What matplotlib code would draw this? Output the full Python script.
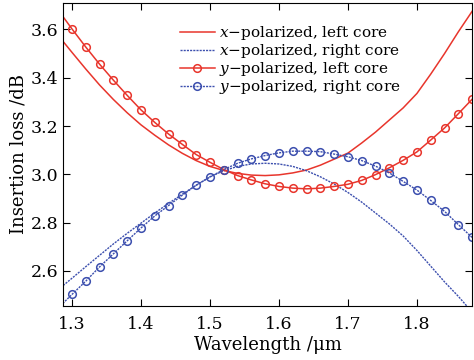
import matplotlib
matplotlib.use("Agg")
import matplotlib.pyplot as plt
import numpy as np

# wavelength grid (um); markers start at 1.30
wavelength = np.round(np.arange(1.28, 1.8801, 0.02), 2)

x_left = [3.575, 3.505, 3.436, 3.370, 3.310, 3.255, 3.205, 3.162, 3.122, 3.087,
          3.057, 3.033, 3.016, 3.004, 2.997, 2.995, 2.998, 3.006, 3.018, 3.038,
          3.063, 3.088, 3.130, 3.175, 3.225, 3.275, 3.335, 3.415, 3.500, 3.590, 3.675]
x_right = [2.523, 2.570, 2.618, 2.665, 2.712, 2.756, 2.798, 2.840, 2.880, 2.918,
           2.955, 2.990, 3.015, 3.033, 3.043, 3.046, 3.043, 3.033, 3.015, 2.990,
           2.960, 2.925, 2.885, 2.840, 2.795, 2.745, 2.685, 2.620, 2.555, 2.495, 2.430]
y_left = [3.680, 3.602, 3.527, 3.456, 3.390, 3.327, 3.267, 3.215, 3.167, 3.124,
          3.082, 3.050, 3.020, 2.995, 2.977, 2.961, 2.950, 2.943, 2.940, 2.943,
          2.950, 2.959, 2.975, 2.999, 3.027, 3.058, 3.093, 3.142, 3.192, 3.251, 3.311]
y_right = [2.447, 2.503, 2.558, 2.617, 2.671, 2.725, 2.778, 2.828, 2.871, 2.914,
           2.955, 2.989, 3.020, 3.046, 3.064, 3.078, 3.089, 3.096, 3.096, 3.094,
           3.084, 3.073, 3.057, 3.034, 3.006, 2.971, 2.935, 2.892, 2.847, 2.792, 2.739]

red = "#e8352c"
blue = "#3c4fae"

plt.rcParams["font.family"] = ["DejaVu Serif"]
plt.rcParams["mathtext.fontset"] = "dejavuserif"

fig = plt.figure(figsize=(4.74, 3.6), dpi=100)
ax = fig.add_axes([0.133, 0.15, 0.863, 0.842])

ax.plot(wavelength, x_left, "-", color=red, lw=1.1, label="$x$\u2212polarized, left core")
ax.plot(wavelength, x_right, color=blue, lw=1.0, ls=(0, (1.5, 0.8)),
        label="$x$\u2212polarized, right core")
ax.plot(wavelength, y_left, "-o", color=red, lw=1.1, ms=5.5, mfc="none", mew=1.1,
        markevery=slice(1, None), label="$y$\u2212polarized, left core")
ax.plot(wavelength, y_right, color=blue, lw=1.0, ls=(0, (1.5, 0.8)), marker="o", ms=5.5,
        mfc="none", mew=1.1, markevery=slice(1, None),
        label="$y$\u2212polarized, right core")

ax.set_xlim(1.287, 1.88)
ax.set_ylim(2.455, 3.71)
ax.set_xticks([1.3, 1.4, 1.5, 1.6, 1.7, 1.8])
ax.set_yticks([2.6, 2.8, 3.0, 3.2, 3.4, 3.6])
ax.tick_params(direction="in", top=True, right=True, length=5, labelsize=12.5)
ax.tick_params(axis="x", pad=7)
ax.set_xlabel("Wavelength /\u03bcm", fontsize=13, labelpad=2)
ax.set_ylabel("Insertion loss /dB", fontsize=13, labelpad=2)

ax.legend(loc="upper left", bbox_to_anchor=(0.285, 0.93), frameon=False, fontsize=11,
          handlelength=2.3, handletextpad=0.3, labelspacing=0.0, borderpad=0,
          borderaxespad=0)

fig.savefig("out.png", dpi=100)
